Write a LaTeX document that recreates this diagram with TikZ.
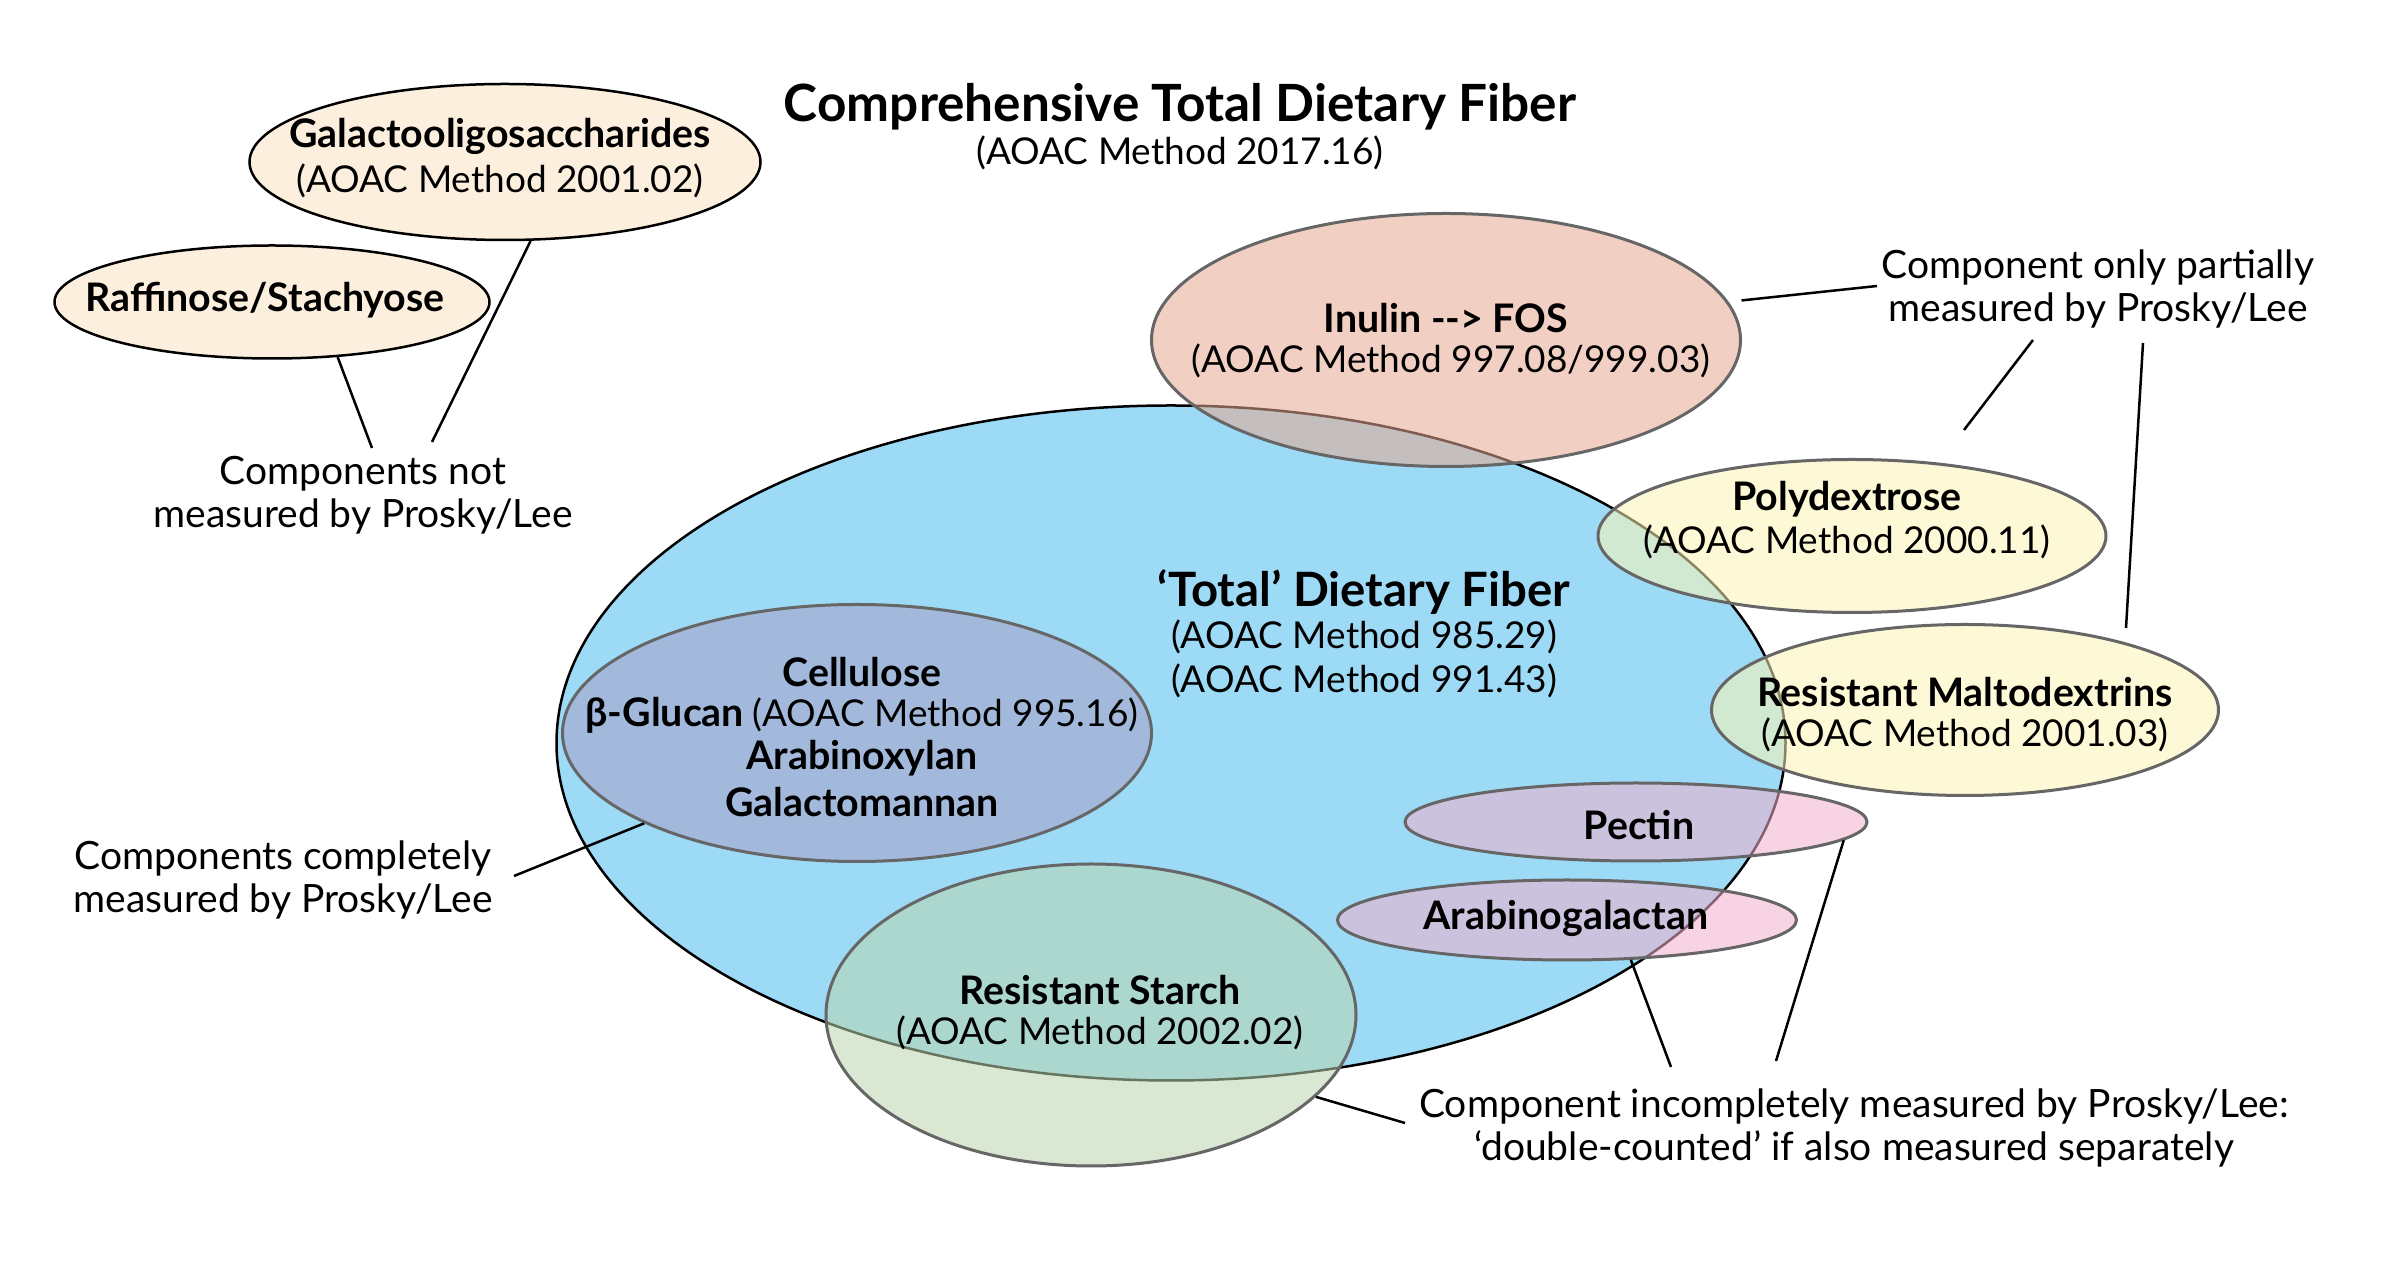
\documentclass[tikz,border=0pt]{standalone}
\usepackage{fontspec}
\setmainfont{Lato}
\usetikzlibrary{shapes.geometric}
\newdimen\pxu \pxu=0.3pt
\definecolor{tdfblue}{HTML}{9DDAF6}
\definecolor{peach}{HTML}{FDEFDE}
\definecolor{salmon}{HTML}{E7A890}
\definecolor{lemon}{HTML}{FDF4B4}
\definecolor{lilac}{HTML}{A89EC8}
\definecolor{rosy}{HTML}{F2AFCC}
\definecolor{sage}{HTML}{BAD5AF}
\definecolor{rimgray}{HTML}{666666}
\tikzset{
  blob/.style={ellipse, inner sep=0pt, draw=black, line width=0.75pt},
  glass/.style={ellipse, inner sep=0pt, draw=rimgray, line width=0.9pt, fill opacity=0.55, draw opacity=1},
  lbl/.style={inner sep=0pt, font=\fontsize{11.8}{13}\selectfont\bfseries},
  ref/.style={inner sep=0pt, font=\fontsize{11.1}{13}\selectfont},
  note/.style={inner sep=0pt, align=center, font=\fontsize{11.7}{12.9}\selectfont},
  wire/.style={line width=0.75pt, draw=black}
}
\begin{document}
\begin{tikzpicture}[x=0.3pt,y=-0.3pt]
\fill[white] (0,0) rectangle (2400,1285);
\useasboundingbox (0,0) rectangle (2400,1285);

% title
\node[inner sep=0pt, font=\fontsize{15.4}{17}\selectfont\bfseries] (title) at (1180,107) {Comprehensive Total Dietary Fiber};
\node[ref] (titleref) at (1180,153) {(AOAC Method 2017.16)};

% not measured
\node[blob, fill=peach, minimum width=511\pxu, minimum height=156\pxu] (gal) at (505,162) {};
\node[lbl] (galT) at (500,136) {Galactooligosaccharides};
\node[ref] (galR) at (500,181) {(AOAC Method 2001.02)};
\node[blob, fill=peach, minimum width=435\pxu, minimum height=113\pxu] (raf) at (272,302) {};
\node[lbl] (rafT) at (265,300) {Raffinose/Stachyose};
\node[note] (notm) at (363,495) {Components not\\measured by Prosky/Lee};

% main
\node[blob, fill=tdfblue, minimum width=1229\pxu, minimum height=675\pxu] (tdf) at (1171,743) {};

\node[glass, fill=lilac, minimum width=589\pxu, minimum height=257\pxu] (cel) at (857,733) {};
\node[glass, fill=sage, minimum width=530\pxu, minimum height=302\pxu] (rs) at (1091,1015) {};
\node[glass, fill=salmon, minimum width=589\pxu, minimum height=253\pxu] (inu) at (1446,340) {};
\node[glass, fill=lemon, minimum width=508\pxu, minimum height=153\pxu] (poly) at (1852,536) {};
\node[glass, fill=lemon, minimum width=507\pxu, minimum height=171\pxu] (mal) at (1965,710) {};
\node[glass, fill=rosy, minimum width=462\pxu, minimum height=78\pxu] (pec) at (1636,822) {};
\node[glass, fill=rosy, minimum width=459\pxu, minimum height=80\pxu] (arg) at (1567,920) {};

% texts
\node[inner sep=0pt, font=\fontsize{14.2}{16}\selectfont\bfseries] (tdfT) at (1364,592) {‘Total’ Dietary Fiber};
\node[ref] (tdfR1) at (1364,637) {(AOAC Method 985.29)};
\node[ref] (tdfR2) at (1364,681) {(AOAC Method 991.43)};

\node[lbl] (celT1) at (862,672) {Cellulose};
\node[inner sep=0pt] (celT2) at (862,715) {{\fontsize{11.8}{13}\selectfont\bfseries β-Glucan} {\fontsize{11.1}{13}\selectfont(AOAC Method 995.16)}};
\node[lbl] (celT3) at (862,758) {Arabinoxylan};
\node[lbl] (celT4) at (862,802) {Galactomannan};

\node[lbl] (rsT) at (1100,990) {Resistant Starch};
\node[ref] (rsR) at (1100,1033) {(AOAC Method 2002.02)};

\node[lbl] (inuT) at (1446,318) {Inulin \mbox{-}\mbox{-}> FOS};
\node[ref] (inuR) at (1451,361) {(AOAC Method 997.08/999.03)};

\node[lbl] (polyT) at (1847,499) {Polydextrose};
\node[ref] (polyR) at (1847,542) {(AOAC Method 2000.11)};

\node[lbl] (malT) at (1965,692) {Resistant Maltodextrins};
\node[ref] (malR) at (1965,735) {(AOAC Method 2001.03)};

\node[lbl] (pecT) at (1639,825) {Pectin};
\node[lbl] (argT) at (1566,918) {Arabinogalactan};

% notes
\node[note] (part) at (2098,289) {Component only partially\\measured by Prosky/Lee};
\node[note] (comp) at (283,880) {Components completely\\measured by Prosky/Lee};
\node[note] (inc) at (1854,1128) {Component incompletely measured by Prosky/Lee:\\‘double-counted’ if also measured separately};

% connector ends
\coordinate (n1) at (372,448);
\coordinate (n2) at (432,442);
\coordinate (p0) at (1877,286);
\coordinate (p1) at (2033,340);
\coordinate (p2) at (1964,430);
\coordinate (p3) at (2143,343);
\coordinate (p4) at (2126,628);
\coordinate (c1) at (514,876);
\coordinate (i1) at (1405,1123);
\coordinate (i2) at (1671,1067);
\coordinate (i3) at (1776,1061);

\draw[wire] ([xshift=14\pxu]inu.8) -- (p0);
\draw[wire] (raf.-40) -- (n1);
\draw[wire] (gal.-72) -- (n2);
\draw[wire] (p1) -- (p2);
\draw[wire] (p3) -- (p4);
\draw[wire] (cel.-157.6) -- (c1);
\draw[wire] (rs.-20.3) -- (i1);
\draw[wire] (arg.-32) -- (i2);
\draw[wire] (pec.-5) -- (i3);
\end{tikzpicture}
\end{document}
